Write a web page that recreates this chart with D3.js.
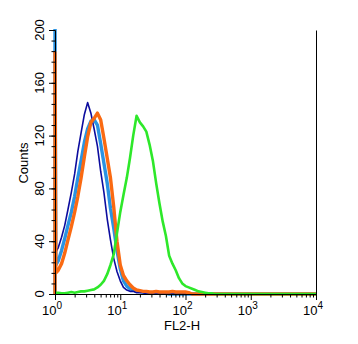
<!DOCTYPE html>
<html>
<head>
<meta charset="utf-8">
<script src="https://cdn.jsdelivr.net/npm/d3@7"></script>
<style>
  html, body { margin: 0; padding: 0; background: #fff; }
  svg { display: block; }
  text { font-family: "Liberation Sans", Arial, sans-serif; fill: #000; }
</style>
</head>
<body>
<svg id="chart" width="358" height="344"></svg>
<script>
// FL2-H channel positions (first entry is the lowest channel, last is the top of the range)
const fl2 = [1.00, 1.03, 1.12, 1.26, 1.41, 1.58, 1.78, 2.00, 2.24, 2.51, 2.82,
  3.16, 3.55, 3.98, 4.47, 5.01, 5.62, 6.31, 7.08, 7.94, 8.91,
  10.0, 11.2, 12.6, 14.1, 15.8, 17.8, 20.0, 22.4, 25.1, 28.2,
  31.6, 35.5, 39.8, 44.7, 50.1, 56.2, 63.1, 70.8, 79.4, 89.1,
  100, 112, 126, 141, 158, 178, 200, 224, 251, 282, 316, 10000];

// Event counts per channel for each sample
const countsNavy = [113, 32, 35, 43, 52, 64, 77, 91, 108, 122, 136,
  145, 137, 125, 112, 93, 77, 57, 41, 27, 17,
  10, 5, 3, 2, 2, 1, 1, 1, 0, 0,
  0, 0, 0, 0, 0, 0, 0, 0, 0, 0,
  0, 0, 0, 0, 0, 0, 0, 0, 0, 0, 0, 0];
const countsLightBlue = [215, 22, 25, 33, 42, 52, 62, 74, 88, 101, 115,
  125, 131, 132, 128, 114, 99, 84, 65, 50, 33,
  19, 10, 6, 4, 3, 2, 2, 1.5, 1, 1,
  1, 1, 1, 1, 0.5, 0, 0, 0, 0, 0,
  0, 0, 0, 0, 0, 0, 0, 0, 0, 0, 0, 0];
const countsOrange = [183, 16, 18, 23, 31, 41, 51, 62, 74, 88, 104,
  119, 130, 133, 137, 132, 118, 103, 88, 66, 40,
  22, 14, 10, 7, 4.5, 3, 2.5, 2, 2, 1.5,
  1.5, 2, 1.5, 1.5, 1.5, 1.5, 2, 1.5, 1.5, 1.5,
  1.5, 1, 0, 0, 0, 0, 0, 0, 0, 0, 0, 0];
const countsGreen = [1, 1, 1, 0.5, 0.5, 1, 1.5, 1, 1.5, 2, 2,
  2.5, 3, 3.5, 5, 7, 10, 15, 22, 30, 46,
  62, 75, 88, 103, 120, 135, 130, 127, 123, 113,
  101, 84, 69, 55, 44, 29, 23, 18, 12, 8,
  6, 5, 4, 3, 2, 1.5, 1, 0.5, 0.5, 0, 0, 0];

// Axis ticks and labels
const yMajorTicks = [0, 40, 80, 120, 160, 200];
const yMinorTicks = d3.range(0, 201, 8);
const xDecades = [1, 10, 100, 1000, 10000];
const xExponents = ["0", "1", "2", "3", "4"];
const xTitle = "FL2-H";
const yTitle = "Counts";

const series = [
  { name: "lightblue", counts: countsLightBlue, color: "#2a93e2", width: 3.4, spike: true },
  { name: "navy", counts: countsNavy, color: "#0c0c9e", width: 1.6, spike: true },
  { name: "orange", counts: countsOrange, color: "#fa6a12", width: 3.4, spike: true },
  { name: "green", counts: countsGreen, color: "#2ee82a", width: 2.6, spike: false }
];

const svg = d3.select("#chart");
const plotLeft = 55, plotRight = 316, plotTop = 30, plotBottom = 294;

const x = d3.scaleLog().domain([1, 10000]).range([plotLeft, plotRight]);
const y = d3.scaleLinear().domain([0, 200]).range([plotBottom, plotTop]);

// Plot area clip so the lowest channel spike stops at the top of the axis
svg.append("defs").append("clipPath").attr("id", "plotClip")
  .append("rect").attr("x", plotLeft - 5).attr("y", plotTop - 1)
  .attr("width", plotRight - plotLeft + 10).attr("height", plotBottom - plotTop + 10);

const line = d3.line()
  .x(d => x(d[0]))
  .y(d => y(d[1]))
  .curve(d3.curveLinear);

const plot = svg.append("g").attr("clip-path", "url(#plotClip)");

series.forEach(s => {
  let pts = fl2.map((v, i) => [v, s.counts[i]]);
  if (s.spike) pts = [[fl2[0], 0]].concat(pts);
  plot.append("path")
    .datum(pts)
    .attr("fill", "none")
    .attr("stroke", s.color)
    .attr("stroke-width", s.width)
    .attr("stroke-linejoin", "round")
    .attr("d", line);
});

// Y axis: minor then major ticks
svg.append("g").attr("transform", `translate(${plotLeft},0)`)
  .call(d3.axisLeft(y).tickValues(yMinorTicks).tickSize(3.5).tickSizeOuter(0).tickFormat(""))
  .call(g => g.selectAll("path,line").attr("stroke", "#000"));
svg.append("g").attr("transform", `translate(${plotLeft},0)`)
  .call(d3.axisLeft(y).tickValues(yMajorTicks).tickSize(6).tickSizeOuter(0).tickFormat(""))
  .call(g => g.selectAll("path,line").attr("stroke", "#000"));

svg.append("g").selectAll("text")
  .data(yMajorTicks)
  .join("text")
  .attr("transform", d => `translate(44,${y(d)}) rotate(-90)`)
  .attr("text-anchor", "middle")
  .attr("font-size", 13)
  .text(d => d);

// X axis: minor (2..9 per decade) and major ticks
const xMinorTicks = [];
xDecades.slice(0, -1).forEach(d => {
  for (let m = 2; m <= 9; m++) xMinorTicks.push(d * m);
});
svg.append("g").attr("transform", `translate(0,${plotBottom})`)
  .call(d3.axisBottom(x).tickValues(xMinorTicks).tickSize(3.5).tickSizeOuter(0).tickFormat(""))
  .call(g => g.selectAll("path,line").attr("stroke", "#000"));
svg.append("g").attr("transform", `translate(0,${plotBottom})`)
  .call(d3.axisBottom(x).tickValues(xDecades).tickSize(6).tickSizeOuter(0).tickFormat(""))
  .call(g => g.selectAll("path,line").attr("stroke", "#000"));

const xl = svg.append("g").selectAll("text")
  .data(xDecades)
  .join("text")
  .attr("x", d => x(d) - 3)
  .attr("y", 315)
  .attr("text-anchor", "middle")
  .attr("font-size", 13);
xl.append("tspan").text("10");
xl.append("tspan").attr("dy", -6).attr("font-size", 10).text((d, i) => xExponents[i]);

// Right frame line
svg.append("g").attr("transform", `translate(${plotRight},0)`)
  .call(d3.axisRight(y).tickValues([]).tickSizeOuter(0))
  .call(g => g.selectAll("path").attr("stroke", "#000"));

// Axis titles
svg.append("text")
  .attr("x", 182).attr("y", 330)
  .attr("text-anchor", "middle")
  .attr("font-size", 13)
  .text(xTitle);
svg.append("text")
  .attr("transform", "translate(28,163) rotate(-90)")
  .attr("text-anchor", "middle")
  .attr("font-size", 13)
  .text(yTitle);
</script>
</body>
</html>
